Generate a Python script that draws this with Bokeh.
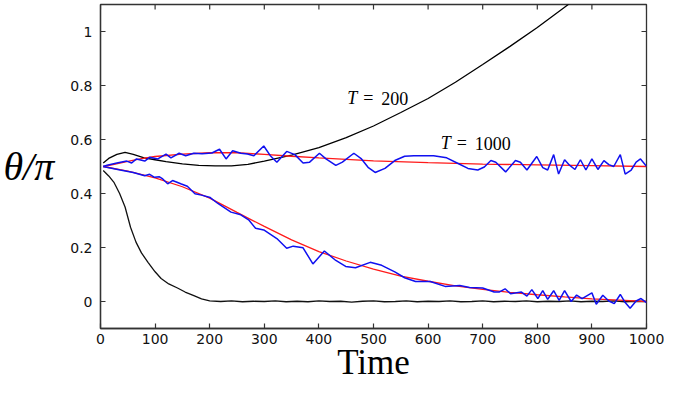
import math
from bokeh.plotting import figure
from bokeh.models import FixedTicker, CustomJSTickFormatter, Range1d
from bokeh.core.properties import value
from bokeh.embed import file_html
from bokeh.resources import INLINE

# ---------------- data ----------------
x_ticks = [0, 100, 200, 300, 400, 500, 600, 700, 800, 900, 1000]
y_ticks = [0, 0.2, 0.4, 0.6, 0.8, 1.0]
x_lo, x_hi = 0, 1000
y_lo, y_hi = -0.1, 1.1

# T = 200, upper black curve
t_black_up = [5, 15, 30, 45, 60, 80, 100, 120, 150, 180, 210, 240, 270, 300, 350,
              400, 450, 500, 550, 600, 650, 700, 750, 800, 850, 880]
y_black_up = [0.513, 0.53, 0.545, 0.552, 0.545, 0.532, 0.525, 0.518, 0.51, 0.504,
              0.502, 0.502, 0.508, 0.52, 0.542, 0.57, 0.607, 0.65, 0.70, 0.752,
              0.812, 0.878, 0.945, 1.015, 1.09, 1.135]

# T = 200, lower black curve
t_black_lo = [5, 15, 25, 35, 45, 55, 65, 75, 87, 100, 111, 125, 141, 155, 171, 185, 200,
              220, 240, 260, 280, 300, 320, 340, 360, 380, 400, 420, 440, 460, 480,
              500, 520, 540, 560, 580, 600, 620, 640, 660, 680, 700, 720, 740, 760,
              780, 800, 820, 840, 860, 880, 900, 920, 940, 960, 980, 1000]
y_black_lo = [0.485, 0.465, 0.44, 0.40, 0.35, 0.275, 0.22, 0.18, 0.145, 0.11, 0.085,
              0.065, 0.05, 0.035, 0.022, 0.01, 0.002,
              0.0, 0.002, -0.001, 0.001, 0.0, 0.002, -0.001, 0.001, -0.001, 0.002,
              0.0, 0.001, -0.002, 0.001, 0.002, -0.001, 0.0, 0.002, -0.001, 0.001,
              0.0, 0.002, -0.001, 0.0, 0.002, -0.001, 0.001, 0.0, 0.002, -0.001,
              0.001, 0.0, 0.002, -0.001, 0.001, 0.0, 0.002, -0.001, 0.001, 0.0]

# T = 1000, upper red (smooth) and blue (noisy)
t_red_up = [5, 25, 50, 75, 100, 150, 200, 250, 300, 350, 400, 500, 600, 700, 800, 900, 1000]
y_red_up = [0.50, 0.508, 0.519, 0.529, 0.537, 0.546, 0.551, 0.551, 0.545, 0.538,
            0.532, 0.521, 0.514, 0.509, 0.506, 0.503, 0.50]

t_blue_up = [5, 12, 30, 48, 57, 66, 81, 90, 105, 120, 129, 144, 156, 171, 186, 204,
             218, 230, 242, 257, 269, 281, 299, 311, 323, 341, 356, 371, 383, 401,
             413, 431, 443, 464, 478, 490, 503, 521, 539, 557, 574, 610, 634, 655,
             673, 691, 703, 715, 724, 742, 760, 769, 781, 799, 810, 819, 830, 839,
             850, 859, 869, 879, 889, 900, 911, 922, 931, 940, 952, 961, 972, 981,
             989, 1000]
y_blue_up = [0.50, 0.505, 0.513, 0.52, 0.513, 0.528, 0.52, 0.534, 0.528, 0.546,
             0.532, 0.549, 0.54, 0.549, 0.547, 0.55, 0.564, 0.528, 0.558, 0.549,
             0.546, 0.54, 0.576, 0.54, 0.516, 0.556, 0.544, 0.513, 0.516, 0.549,
             0.528, 0.504, 0.516, 0.549, 0.528, 0.497, 0.478, 0.493, 0.522, 0.538,
             0.54, 0.54, 0.532, 0.511, 0.493, 0.487, 0.498, 0.522, 0.516, 0.48,
             0.522, 0.516, 0.487, 0.537, 0.496, 0.487, 0.544, 0.472, 0.525, 0.505,
             0.489, 0.525, 0.487, 0.528, 0.489, 0.522, 0.507, 0.5, 0.544, 0.472,
             0.487, 0.516, 0.528, 0.501]

# lower red (smooth) and blue (noisy)
t_red_lo = [5, 50, 100, 150, 200, 250, 300, 350, 400, 450, 500, 550, 600, 650, 700,
            750, 800, 850, 900, 950, 1000]
y_red_lo = [0.50, 0.483, 0.458, 0.425, 0.383, 0.33, 0.278, 0.228, 0.185, 0.15, 0.12,
            0.094, 0.075, 0.058, 0.045, 0.034, 0.025, 0.017, 0.01, 0.005, 0.0]

t_blue_lo = [5, 9, 36, 60, 81, 90, 99, 108, 114, 123, 132, 147, 159, 173, 185, 201,
             215, 239, 257, 272, 284, 299, 323, 341, 353, 371, 389, 410, 431, 449,
             467, 494, 515, 539, 557, 577, 604, 631, 658, 676, 700, 721, 730, 741,
             751, 771, 781, 790, 801, 810, 819, 830, 840, 850, 862, 872, 882, 900,
             908, 920, 931, 941, 952, 961, 970, 981, 990, 1000]
y_blue_lo = [0.50, 0.498, 0.487, 0.478, 0.466, 0.471, 0.46, 0.462, 0.454, 0.436,
             0.448, 0.436, 0.427, 0.399, 0.394, 0.385, 0.363, 0.331, 0.321, 0.301,
             0.271, 0.265, 0.233, 0.197, 0.205, 0.199, 0.139, 0.187, 0.152, 0.13,
             0.125, 0.145, 0.134, 0.11, 0.088, 0.074, 0.074, 0.056, 0.059, 0.052,
             0.05, 0.035, 0.035, 0.047, 0.029, 0.035, 0.02, 0.044, 0.011, 0.04,
             0.008, 0.04, 0.004, 0.04, 0.0, 0.024, 0.011, 0.032, -0.01, 0.023,
             0.002, -0.008, 0.026, -0.004, -0.025, 0.002, 0.011, -0.004]

curve_labels = ["200", "1000"]
label_t = [452, 623]
label_y = [0.752, 0.587]

x_title = "Time"
y_title = "θ/π"

# ---------------- figure ----------------
p = figure(width=664, height=384, output_backend="svg", toolbar_location=None,
           x_range=Range1d(x_lo, x_hi), y_range=Range1d(y_lo, y_hi),
           x_axis_label=x_title, y_axis_label=y_title,
           min_border_left=100, min_border_right=18, min_border_top=4, min_border_bottom=0)

p.background_fill_color = "white"
p.border_fill_color = "white"
p.xgrid.visible = False
p.ygrid.visible = False
frame_col = "#333333"
p.outline_line_color = frame_col
p.outline_line_width = 1.3

def style_axis(ax, ticks):
    ax.ticker = FixedTicker(ticks=ticks)
    ax.axis_line_color = frame_col
    ax.axis_line_width = 1.3
    ax.major_tick_line_color = frame_col
    ax.major_tick_line_width = 1.2
    ax.major_tick_in = 5
    ax.major_tick_out = 0
    ax.minor_tick_line_color = None
    ax.major_label_text_font = "DejaVu Sans"
    ax.major_label_text_font_size = "14px"
    ax.major_label_text_color = "#111111"
    ax.major_label_standoff = 8

xa = p.xaxis[0]
ya = p.yaxis[0]
style_axis(xa, x_ticks)
style_axis(ya, y_ticks)
ya.formatter = CustomJSTickFormatter(code="return String(Number(tick.toFixed(2)));")
xa.major_label_standoff = 5

xa.axis_label_text_font = "Liberation Serif"
xa.axis_label_text_font_style = "normal"
xa.axis_label_text_font_size = "35px"
xa.axis_label_text_color = "#000000"
xa.axis_label_standoff = -4

ya.axis_label_text_font = "Liberation Serif"
ya.axis_label_text_font_style = "italic"
ya.axis_label_text_font_size = "40px"
ya.axis_label_text_color = "#000000"
ya.axis_label_orientation = "horizontal"
ya.axis_label_standoff = 13

# mirrored inward ticks on the top and right edges of the frame
p.ray(x=x_ticks, y=[y_hi] * len(x_ticks), length=5, length_units="screen",
      angle=-math.pi / 2, line_color=frame_col, line_width=1.2)
p.ray(x=[x_hi] * len(y_ticks), y=y_ticks, length=5, length_units="screen",
      angle=math.pi, line_color=frame_col, line_width=1.2)

# curves
p.line(t_black_up, y_black_up, line_color="#000000", line_width=1.3)
p.line(t_black_lo, y_black_lo, line_color="#111111", line_width=1.3)
p.line(t_red_up, y_red_up, line_color="#ff1a1a", line_width=1.3)
p.line(t_red_lo, y_red_lo, line_color="#ff1a1a", line_width=1.3)
p.line(t_blue_up, y_blue_up, line_color="#1010f0", line_width=1.5)
p.line(t_blue_lo, y_blue_lo, line_color="#1010f0", line_width=1.5)

serif = value("Liberation Serif")
p.text(x=label_t, y=label_y, text=["T"] * len(label_t), text_font=serif,
       text_font_style="italic", text_font_size="18px", text_baseline="middle",
       text_align="left", text_color="black")
p.text(x=label_t, y=label_y, text=["="] * len(label_t), text_font=serif, x_offset=16,
       text_font_size="18px", text_baseline="middle", text_align="left", text_color="black")
p.text(x=label_t, y=label_y, text=curve_labels, text_font=serif, x_offset=34,
       text_font_size="18px", text_baseline="middle", text_align="left", text_color="black")

open("out.html", "w").write(file_html(p, INLINE))
